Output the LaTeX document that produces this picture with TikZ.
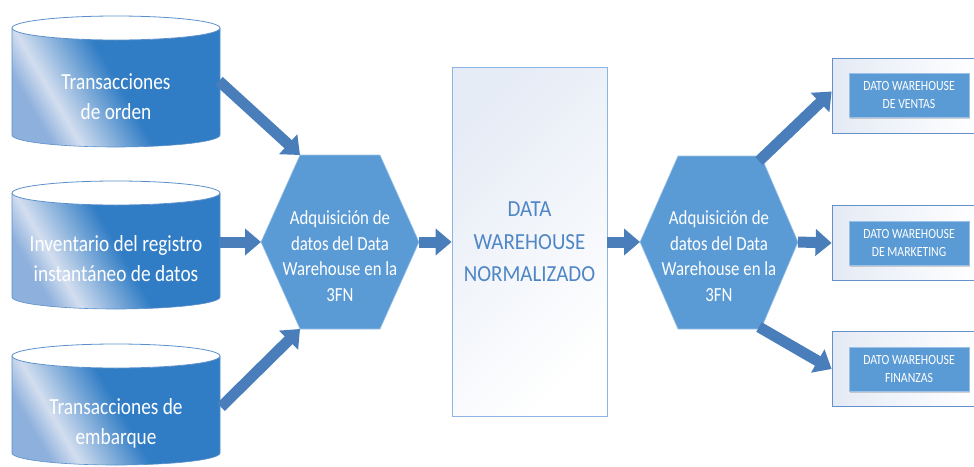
\documentclass[tikz,border=0pt]{standalone}
\usepackage{fontspec}
\setmainfont{Carlito}[FakeStretch=0.84]
\newfontfamily\rectfont{Carlito}[FakeStretch=0.91]
\usetikzlibrary{arrows.meta,shadows,calc}
\definecolor{cylblue}{HTML}{317DC5}
\definecolor{cylmid}{HTML}{8DB0DC}
\definecolor{cyllight}{HTML}{D3DEEF}
\definecolor{cylborder}{HTML}{5B8FCB}
\definecolor{hexblue}{HTML}{5B9BD5}
\definecolor{arrblue}{HTML}{4A7EBB}
\definecolor{rectborder}{HTML}{8EB4E3}
\definecolor{rectlight}{HTML}{E6ECF6}
\definecolor{recttext}{HTML}{4F86C6}
\definecolor{boxborder}{HTML}{6590C9}
\definecolor{boxlight}{HTML}{E4EAF5}
\definecolor{innerborder}{HTML}{9CC0E6}
\pgfdeclarehorizontalshading{cylsh}{100bp}{color(0bp)=(cylmid); color(26bp)=(cylmid); color(33bp)=(cyllight); color(51bp)=(cylblue); color(100bp)=(cylblue)}
\tikzset{
  cylbody/.style={shading=cylsh, shading angle=30},
  cylline/.style={draw=cylborder, line width=0.6pt},
  cyltop/.style={fill=white, draw=cylborder, line width=0.8pt},
  cyltext/.style={text=white, font=\fontsize{23}{30}\selectfont, align=center, inner sep=0pt},
  hexshape/.style={fill=hexblue, draw=hexblue!60!white, line width=0.6pt},
  hextext/.style={text=white, font=\fontsize{20}{25.7}\selectfont, align=center, inner sep=0pt},
  dwbox/.style={draw=rectborder, line width=0.8pt, top color=rectlight, bottom color=white, shading angle=45,
    minimum width=155pt, minimum height=349pt, inner sep=0pt, text=recttext, align=center,
    font=\rectfont\fontsize{23}{32.5}\selectfont},
  outerbox/.style={draw=boxborder, line width=0.8pt, left color=boxlight, right color=white,
    minimum width=144pt, minimum height=75pt, inner sep=0pt},
  innerbox/.style={fill=hexblue, draw=innerborder, line width=0.6pt, minimum width=120pt, minimum height=44pt,
    inner sep=0pt, text=white, align=center, font=\fontsize{14}{18}\selectfont,
    drop shadow={opacity=0.35, shadow xshift=1pt, shadow yshift=-1.5pt}},
  blockarrow/.style={line width=11pt, draw=arrblue, -{Triangle[width=26pt,length=16pt]}}
}
\begin{document}
\begin{tikzpicture}[x=1pt,y=1pt,yscale=-1]
\useasboundingbox (0,0) rectangle (974,466);
% cylinders
\foreach \yt/\yb in {28/135, 193/297, 356/453}{
  \path[cylbody] (12,\yt) -- (12,\yb) arc[start angle=180, end angle=0, x radius=104, y radius=12]
     -- (220,\yt) arc[start angle=0, end angle=180, x radius=104, y radius=12] -- cycle;
  \draw[cylline] (12,\yt) -- (12,\yb) arc[start angle=180, end angle=0, x radius=104, y radius=12] -- (220,\yt);
  \path[cyltop] (116,\yt) ellipse [x radius=104, y radius=12];
}
\node[cyltext] (t1) at (116,96.5) {Transacciones\\de orden};
\node[cyltext] (t2) at (116,259) {Inventario del registro\\instantáneo de datos};
\node[cyltext] (t3) at (116,423) {Transacciones de\\embarque};
\coordinate (c1) at (219,81);
\coordinate (c2) at (220,242);
\coordinate (c3) at (221,407);
% hexagons
\coordinate (h1l) at (261,242);  \coordinate (h1tl) at (300,155); \coordinate (h1tr) at (380,155);
\coordinate (h1r) at (419,242);  \coordinate (h1br) at (380,329); \coordinate (h1bl) at (300,329);
\coordinate (h2l) at (640,242);  \coordinate (h2tl) at (678,156); \coordinate (h2tr) at (761,156);
\coordinate (h2r) at (798,242);  \coordinate (h2br) at (761,329); \coordinate (h2bl) at (678,329);
\path[hexshape] (h1l) -- (h1tl) -- (h1tr) -- (h1r) -- (h1br) -- (h1bl) -- cycle;
\path[hexshape] (h2l) -- (h2tl) -- (h2tr) -- (h2r) -- (h2br) -- (h2bl) -- cycle;
\node[hextext] (x1) at (340,256) {Adquisición de\\datos del Data\\Warehouse en la\\3FN};
\node[hextext] (x2) at (719,256) {Adquisición de\\datos del Data\\Warehouse en la\\3FN};
% central box
\node[dwbox] (dw) at (529.5,242) {DATA\\WAREHOUSE\\NORMALIZADO};
% right boxes
\node[outerbox] (ob1) at (904,95.5) {};
\node[outerbox] (ob2) at (904,243) {};
\node[outerbox] (ob3) at (904,369) {};
\node[innerbox] (ib1) at (909,95) {DATO WAREHOUSE\\DE VENTAS};
\node[innerbox] (ib2) at (909,243) {DATO WAREHOUSE\\DE MARKETING};
\node[innerbox] (ib3) at (909,369) {DATO WAREHOUSE\\FINANZAS};
\coordinate (s6) at (759,161);
\coordinate (s8) at (759,327);
% arrows
\draw[blockarrow] (c1) -- (h1tl);
\draw[blockarrow] (c2) -- (h1l);
\draw[blockarrow] (c3) -- (h1bl);
\draw[blockarrow] (h1r) -- (dw.west);
\draw[blockarrow] (dw.east) -- (h2l);
\draw[blockarrow] (s6) -- ($(ob1.west)+(0,-4)$);
\draw[blockarrow] (h2r) -- (ob2.west);
\draw[blockarrow] (s8) -- (ob3.west);
\end{tikzpicture}
\end{document}
